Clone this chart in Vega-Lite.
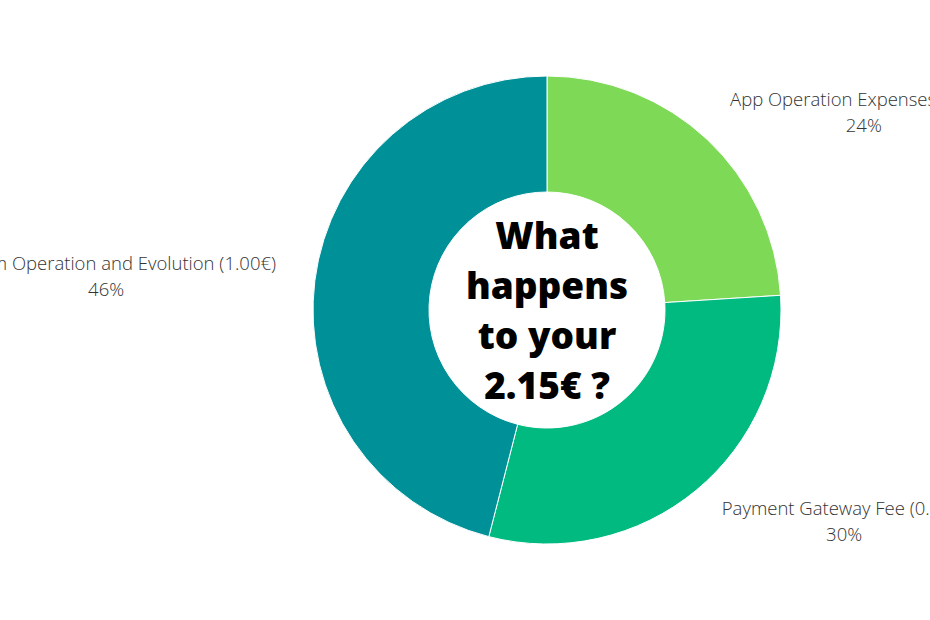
{
  "$schema": "https://vega.github.io/schema/vega-lite/v6.json",
  "width": 766,
  "height": 620,
  "padding": {"left": 164, "top": 0, "right": 0, "bottom": 0},
  "autosize": {"type": "none"},
  "background": "white",
  "config": {"view": {"stroke": null}, "font": "Open Sans"},
  "data": {
    "values": [
      {"category": "App Operation Expenses (0.50€)", "value": 24, "label": "App Operation Expenses (0.50€)\n24%"},
      {"category": "Payment Gateway Fee (0.65€)", "value": 30, "label": "Payment Gateway Fee (0.65€)\n30%"},
      {"category": "Platform Operation and Evolution (1.00€)", "value": 46, "label": "Platform Operation and Evolution (1.00€)\n46%"}
    ]
  },
  "encoding": {
    "theta": {"field": "value", "type": "quantitative", "stack": true},
    "order": {"field": "category", "type": "ordinal", "sort": "ascending"}
  },
  "layer": [
    {
      "mark": {"type": "arc", "outerRadius": 234, "innerRadius": 118, "stroke": "white", "strokeWidth": 1},
      "encoding": {
        "color": {
          "field": "category",
          "type": "nominal",
          "scale": {
            "domain": ["App Operation Expenses (0.50€)", "Payment Gateway Fee (0.65€)", "Platform Operation and Evolution (1.00€)"],
            "range": ["#7ED957", "#00BA80", "#009198"]
          },
          "legend": null
        }
      }
    },
    {
      "mark": {"type": "text", "radius": 270, "dx": 132, "dy": -13, "align": "center", "baseline": "middle", "fontSize": 18.5, "fontWeight": 300, "lineHeight": 26, "lineBreak": "\n", "color": "#333333"},
      "encoding": {
        "detail": {"field": "category", "type": "nominal"},
        "text": {"condition": {"test": "datum.value == 24", "field": "label"}, "value": ""}
      }
    },
    {
      "mark": {"type": "text", "radius": 270, "dx": 125, "dy": -9, "align": "center", "baseline": "middle", "fontSize": 18.5, "fontWeight": 300, "lineHeight": 26, "lineBreak": "\n", "color": "#333333"},
      "encoding": {
        "detail": {"field": "category", "type": "nominal"},
        "text": {"condition": {"test": "datum.value == 30", "field": "label"}, "value": ""}
      }
    },
    {
      "mark": {"type": "text", "radius": 270, "dx": -173, "dy": -12, "align": "center", "baseline": "middle", "fontSize": 18.5, "fontWeight": 300, "lineHeight": 26, "lineBreak": "\n", "color": "#333333"},
      "encoding": {
        "detail": {"field": "category", "type": "nominal"},
        "text": {"condition": {"test": "datum.value == 46", "field": "label"}, "value": ""}
      }
    },
    {
      "data": {"values": [{"title": "What\nhappens\nto your\n2.15€ ?"}]},
      "mark": {"type": "text", "align": "center", "baseline": "middle", "fontSize": 37, "fontWeight": 800, "lineHeight": 50, "lineBreak": "\n", "color": "black", "dy": -72},
      "encoding": {
        "theta": null,
        "order": null,
        "text": {"field": "title", "type": "nominal"}
      }
    }
  ]
}
